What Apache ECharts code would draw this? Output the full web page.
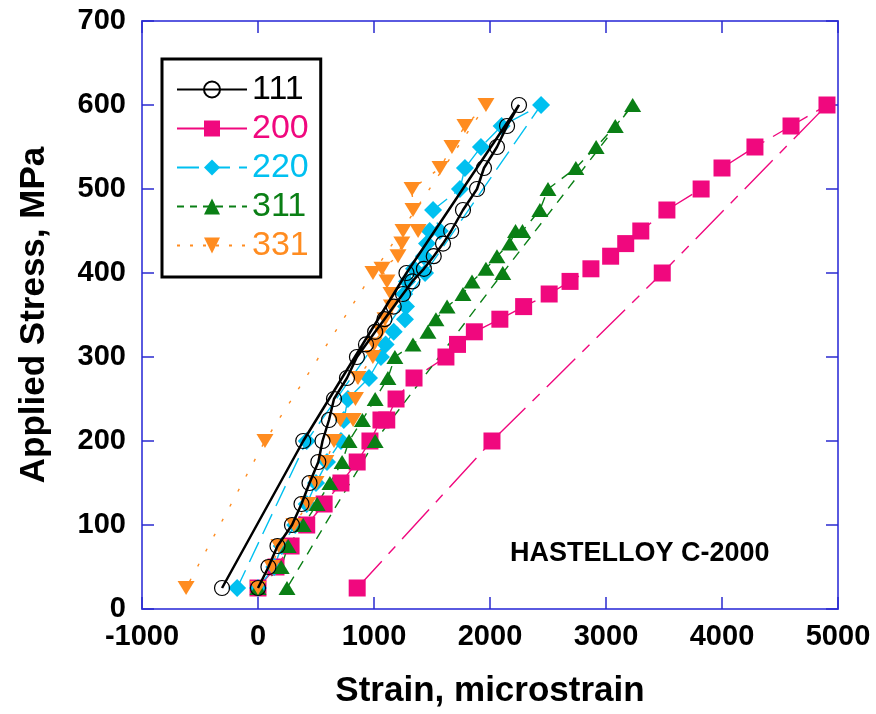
<!DOCTYPE html>
<html><head><meta charset="utf-8">
<script src="https://cdn.jsdelivr.net/npm/echarts@6/dist/echarts.min.js"></script>
<style>html,body{margin:0;padding:0;background:#fff}#c{width:876px;height:714px}</style>
</head><body><div id="c"></div>
<script>
// ---- data (loading path followed by unloading points) ----
const seriesNames = ['111', '200', '220', '311', '331'];

const stress111 = [25,50,75,100,125,150,175,200,225,250,275,300,315,330,345,360,375,390,405,420,435,450,475,500,525,550,575,600,400,200,25];
const strain111 = [0,90,168,293,375,444,520,556,612,655,767,853,931,1010,1090,1170,1250,1330,1430,1515,1595,1665,1767,1888,1948,2060,2147,2250,1280,390,-310];

const stress200 = [25,50,75,100,125,150,175,200,225,225,250,275,300,315,330,345,360,375,390,405,420,435,450,475,500,525,550,575,600,400,200,25];
const strain200 = [0,155,285,420,570,715,855,965,1060,1110,1190,1345,1620,1720,1865,2085,2290,2510,2690,2870,3040,3170,3300,3525,3820,4000,4284,4595,4905,3485,2017,855];

const stress220 = [25,50,75,100,125,150,175,200,225,250,275,300,315,330,345,360,375,390,405,420,435,450,450,475,500,525,550,575,600,400,200,25];
const strain220 = [0,140,205,320,420,500,595,715,740,775,957,1060,1100,1170,1267,1276,1260,1284,1345,1430,1457,1480,1567,1509,1741,1784,1922,2100,2440,1440,420,-180];

const stress311 = [25,50,75,100,125,150,175,200,225,250,275,300,315,330,345,360,375,390,405,420,435,450,450,475,500,525,550,575,600,400,200,25];
const strain311 = [0,200,260,390,510,620,725,785,900,1010,1120,1180,1336,1465,1534,1630,1767,1845,1965,2060,2170,2220,2280,2430,2500,2740,2915,3080,3230,2110,1010,250];

const stress331 = [25,50,75,100,125,150,175,200,225,225,250,275,300,315,330,345,360,375,390,405,420,435,450,450,475,500,525,550,575,600,400,200,25];
const strain331 = [0,120,180,310,430,500,585,655,710,820,840,862,990,1000,1060,1095,1150,1146,1112,1069,1207,1240,1250,1380,1336,1328,1569,1672,1784,1965,991,60,-620];

const xTicks = [-1000, 0, 1000, 2000, 3000, 4000, 5000];
const yTicks = [0, 100, 200, 300, 400, 500, 600, 700];
const noteText = 'HASTELLOY C-2000';
const xTitle = 'Strain, microstrain';
const yTitle = 'Applied Stress, MPa';

// ---- styling ----
const colors = ['#000000', '#F0087E', '#00C0F0', '#0A7F15', '#FF8C20'];
const FF = '"Liberation Sans", Arial, sans-serif';
const zip = (xs, ys) => xs.map((x, i) => [x, ys[i]]);

const axisLineStyle = { color: '#5a5ae0', width: 2 };
const tickStyle = { color: '#2a2ad0', width: 1.5 };

const chart = echarts.init(document.getElementById('c'), null, { renderer: 'canvas' });
const xMin = xTicks[0], xMax = xTicks[xTicks.length - 1], xInt = xTicks[1] - xTicks[0];
const yMin = yTicks[0], yMax = yTicks[yTicks.length - 1], yInt = yTicks[1] - yTicks[0];
const plainLabel = v => String(v);

const lineTypes = ['solid', [40, 10, 10, 10], [22, 9], [10, 8], [3, 14]];
const legendLineTypes = ['solid', 'solid', [22, 9], [7, 6], [3, 10]];

const option = {
  animation: false,
  backgroundColor: '#fff',
  grid: { left: 142, right: 38, top: 21, bottom: 105, containLabel: false, outerBoundsMode: 'none' },
  xAxis: [{
    type: 'value', min: xMin, max: xMax, interval: xInt, position: 'bottom',
    axisLine: { show: true, onZero: false, lineStyle: axisLineStyle },
    axisTick: { show: true, inside: true, length: 12, lineStyle: tickStyle },
    axisLabel: { fontSize: 29, fontWeight: 'bold', color: '#000', margin: 13, fontFamily: FF, formatter: plainLabel },
    splitLine: { show: false },
    name: xTitle, nameLocation: 'middle', nameGap: 65,
    nameTextStyle: { fontSize: 35, fontWeight: 'bold', color: '#000', fontFamily: FF }
  }, {
    type: 'value', min: xMin, max: xMax, interval: xInt, position: 'top',
    axisLine: { show: true, onZero: false, lineStyle: axisLineStyle },
    axisTick: { show: true, inside: true, length: 12, lineStyle: tickStyle },
    axisLabel: { show: false }, splitLine: { show: false }
  }],
  yAxis: [{
    type: 'value', min: yMin, max: yMax, interval: yInt, position: 'left',
    axisLine: { show: true, onZero: false, lineStyle: axisLineStyle },
    axisTick: { show: true, inside: true, length: 12, lineStyle: tickStyle },
    axisLabel: { fontSize: 29, fontWeight: 'bold', color: '#000', margin: 16, fontFamily: FF, formatter: plainLabel },
    splitLine: { show: false },
    name: yTitle, nameLocation: 'middle', nameGap: 90, nameRotate: 90,
    nameTextStyle: { fontSize: 35, fontWeight: 'bold', color: '#000', fontFamily: FF }
  }, {
    type: 'value', min: yMin, max: yMax, interval: yInt, position: 'right',
    axisLine: { show: true, onZero: false, lineStyle: axisLineStyle },
    axisTick: { show: true, inside: true, length: 12, lineStyle: tickStyle },
    axisLabel: { show: false }, splitLine: { show: false }
  }],
  legend: {
    orient: 'vertical', left: 162, top: 59,
    backgroundColor: '#fff', borderColor: '#000', borderWidth: 3, borderRadius: 0,
    padding: [13, 12, 14, 14], itemGap: 4, itemWidth: 70, itemHeight: 20,
    textStyle: { fontSize: 34, fontFamily: FF, lineHeight: 35 },
    data: seriesNames.map((n, i) => ({
      name: n, textStyle: { color: colors[i] },
      lineStyle: { type: legendLineTypes[i] }
    }))
  },
  graphic: [{
    type: 'text', left: 510, top: 540,
    style: { text: noteText, font: 'bold 27px ' + FF, fill: '#000' }
  }],
  series: [
    {
      name: seriesNames[0], type: 'line', data: zip(strain111, stress111),
      symbol: 'circle', symbolSize: 15,
      itemStyle: { color: 'rgba(255,255,255,0)', borderColor: '#000', borderWidth: 1.2 },
      lineStyle: { color: colors[0], width: 2.5, type: lineTypes[0] }, z: 3
    },
    {
      name: seriesNames[1], type: 'line', data: zip(strain200, stress200),
      symbol: 'rect', symbolSize: 17,
      itemStyle: { color: colors[1] },
      lineStyle: { color: colors[1], width: 1.4, type: lineTypes[1] }, z: 2
    },
    {
      name: seriesNames[2], type: 'line', data: zip(strain220, stress220),
      symbol: 'diamond', symbolSize: [18, 18],
      itemStyle: { color: colors[2] },
      lineStyle: { color: colors[2], width: 1.4, type: lineTypes[2] }, z: 2
    },
    {
      name: seriesNames[3], type: 'line', data: zip(strain311, stress311),
      symbol: 'triangle', symbolSize: [17, 14],
      itemStyle: { color: colors[3] },
      lineStyle: { color: colors[3], width: 1.4, type: lineTypes[3] }, z: 2
    },
    {
      name: seriesNames[4], type: 'line', data: zip(strain331, stress331),
      symbol: 'triangle', symbolRotate: 180, symbolSize: [17, 14],
      itemStyle: { color: colors[4] },
      lineStyle: { color: colors[4], width: 1.4, type: lineTypes[4] }, z: 2
    }
  ]
};
chart.setOption(option);
</script></body></html>
